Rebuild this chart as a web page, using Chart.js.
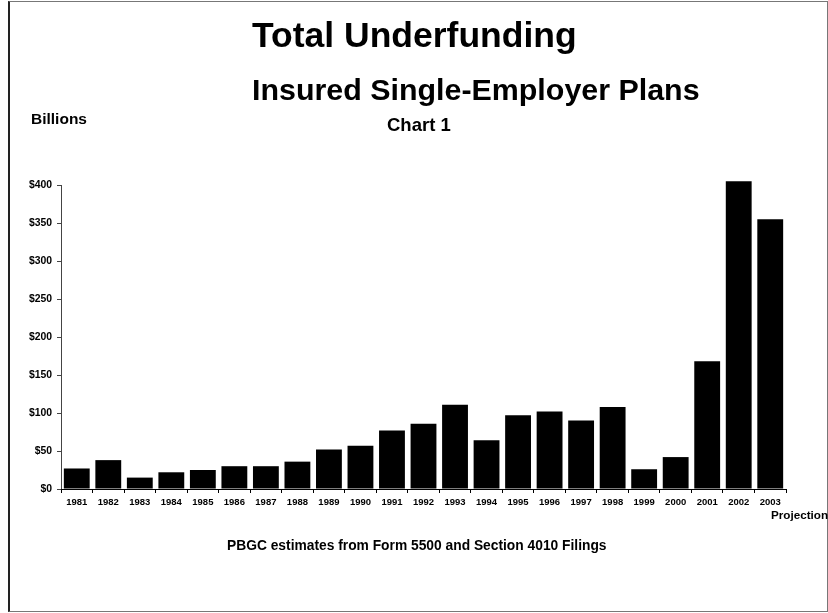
<!DOCTYPE html>
<html>
<head>
<meta charset="utf-8">
<script src="https://cdn.jsdelivr.net/npm/chart.js@4.4.1/dist/chart.umd.min.js"></script>
<style>
  html, body { margin: 0; padding: 0; background: #fff; }
  body { width: 828px; height: 613px; position: relative; overflow: hidden;
         font-family: "Liberation Sans", Arial, sans-serif; font-weight: bold; color: #000; }
  #chart { position: absolute; left: 0; top: 0; }
  .txt { position: absolute; line-height: 1; white-space: nowrap; }
  #frame { position: absolute; left: 8px; top: 1px; width: 817px; height: 609px;
           border: 1px solid #777; border-left: 2px solid #222; }
</style>
</head>
<body>
<div id="frame"></div>
<canvas id="chart" width="828" height="613"></canvas>
<div class="txt" style="left:252px; top:18px; font-size:35.5px;">Total Underfunding</div>
<div class="txt" style="left:252px; top:74px; font-size:30.4px;">Insured Single-Employer Plans</div>
<div class="txt" style="left:387px; top:116px; font-size:18.5px;">Chart 1</div>
<div class="txt" style="left:31px; top:111px; font-size:15.5px;">Billions</div>
<div class="txt" style="left:771px; top:509px; font-size:11.7px;">Projection</div>
<div class="txt" style="left:227px; top:539px; font-size:13.8px;">PBGC estimates from Form 5500 and Section 4010 Filings</div>
<script>
// values, billions of dollars
const years = ['1981', '1982', '1983', '1984', '1985', '1986', '1987', '1988', '1989', '1990',
  '1991', '1992', '1993', '1994', '1995', '1996', '1997', '1998', '1999', '2000',
  '2001', '2002', '2003'];
const underfunding = [27, 38, 15, 22, 25, 30, 30, 36, 52, 57,
  77, 86, 111, 64, 97, 102, 90, 108, 26, 42,
  168, 405, 355];
const yTicks = [0, 50, 100, 150, 200, 250, 300, 350, 400];

const fontFamily = '"Liberation Sans", Arial, sans-serif';

new Chart(document.getElementById('chart'), {
  type: 'bar',
  data: {
    labels: years,
    datasets: [{
      data: underfunding,
      backgroundColor: '#000',
      borderWidth: 0,
      barPercentage: 0.82,
      categoryPercentage: 1.0,
      clip: false // 2002 pokes just above the $400 line
    }]
  },
  options: {
    responsive: false,
    animation: false,
    devicePixelRatio: 1,
    layout: { padding: { top: 185, right: 42, left: 0, bottom: 0 } },
    plugins: { legend: { display: false }, tooltip: { enabled: false }, title: { display: false } },
    scales: {
      y: {
        min: 0,
        max: 400,
        afterBuildTicks: (scale) => { scale.ticks = yTicks.map(v => ({ value: v })); },
        afterFit: (scale) => { scale.width = 61; },
        ticks: {
          callback: (v) => '$' + v,
          color: '#000',
          padding: 5,
          font: { family: fontFamily, size: 10.4, weight: 'bold' }
        },
        grid: { drawOnChartArea: false, tickLength: 4, color: '#444' },
        border: { color: '#444', width: 1 }
      },
      x: {
        afterFit: (scale) => { scale.height = 124; },
        ticks: {
          color: '#000',
          padding: 4,
          maxRotation: 0,
          autoSkip: false,
          font: { family: fontFamily, size: 9.5, weight: 'bold' }
        },
        grid: { offset: true, drawOnChartArea: false, tickLength: 4, color: '#000' },
        border: { color: '#000', width: 1 }
      }
    }
  }
});
</script>
</body>
</html>
